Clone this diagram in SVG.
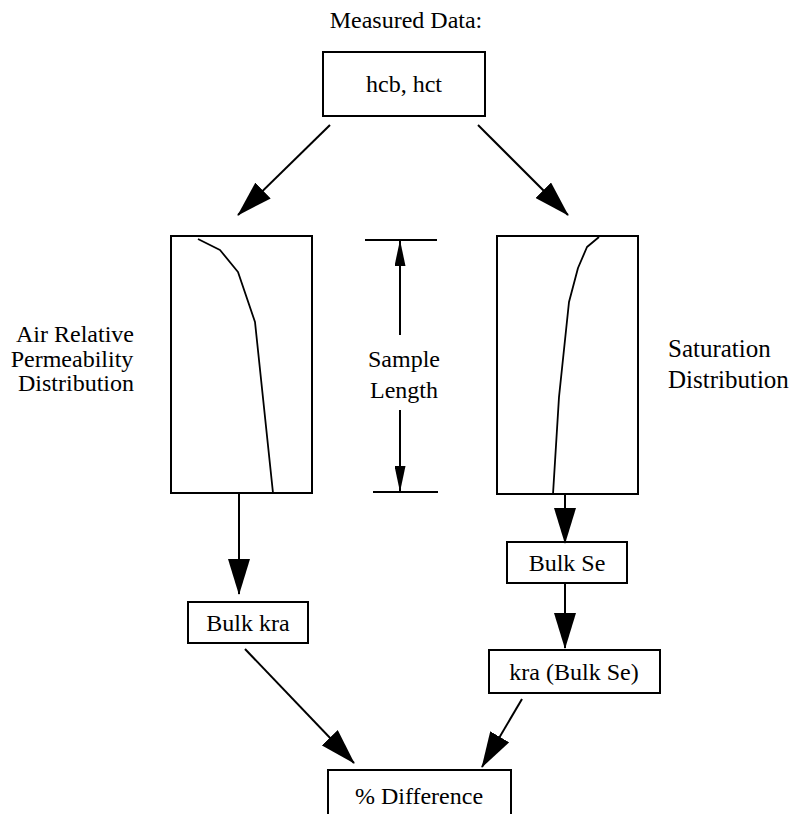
<svg xmlns="http://www.w3.org/2000/svg" width="790" height="814" viewBox="0 0 790 814">
<style>
.box{fill:#fff;stroke:#000;stroke-width:2}
.ln{fill:none;stroke:#000;stroke-width:2}
.cv{fill:none;stroke:#000;stroke-width:1.8;stroke-linejoin:round}
.t{font-family:"Liberation Serif","Times New Roman",serif;font-size:24px;fill:#000}
.m{text-anchor:middle}
</style>
<defs>
<marker id="ah" viewBox="0 0 36 22" markerWidth="36" markerHeight="22" refX="35" refY="11" orient="auto" markerUnits="userSpaceOnUse">
<path d="M0,0 L36,11 L0,22 z" fill="#000"/>
</marker>
<marker id="ahs" viewBox="0 0 26 11" markerWidth="26" markerHeight="11" refX="25" refY="5.5" orient="auto" markerUnits="userSpaceOnUse">
<path d="M0,0 L26,5.5 L0,11 z" fill="#000"/>
</marker>
</defs>
<text class="t m" x="406" y="28">Measured Data:</text>
<g id="measured">
<rect class="box" x="323" y="52" width="162" height="64"/>
<text class="t m" x="404" y="92">hcb, hct</text>
</g>
<g id="kra-dist">
<rect class="box" x="171" y="236" width="141" height="257"/>
<polyline class="cv" points="198,239 220,250 238,272 255,322 273,493"/>
<text class="t m" x="75" y="342">Air Relative</text>
<text class="t m" x="72" y="367">Permeability</text>
<text class="t m" x="76" y="391">Distribution</text>
</g>
<g id="sample-length">
<line class="ln" x1="365" y1="240" x2="437" y2="240"/>
<line class="ln" x1="373" y1="492" x2="438" y2="492"/>
<text class="t m" x="404" y="367">Sample</text>
<text class="t m" x="404" y="398">Length</text>
</g>
<g id="se-dist">
<rect class="box" x="497" y="236" width="141" height="258"/>
<polyline class="cv" points="599,237 587,247 578,268 569,302 559,397 553,494"/>
<text class="t" x="668" y="357" style="font-size:25px">Saturation</text>
<text class="t" x="668" y="388" style="font-size:25px">Distribution</text>
</g>
<g id="bulk-kra">
<rect class="box" x="188" y="602" width="120" height="41"/>
<text class="t m" x="248" y="631">Bulk kra</text>
</g>
<g id="bulk-se">
<rect class="box" x="507" y="542" width="120" height="41"/>
<text class="t m" x="567" y="571">Bulk Se</text>
</g>
<g id="kra-bulk-se">
<rect class="box" x="489" y="650" width="171" height="43"/>
<text class="t m" x="574" y="680">kra (Bulk Se)</text>
</g>
<g id="pct-diff">
<rect class="box" x="328" y="770" width="183" height="60"/>
<text class="t m" x="419" y="804">% Difference</text>
</g>
<g id="connectors">
<line class="ln" x1="330" y1="125" x2="238" y2="215" marker-end="url(#ah)"/>
<line class="ln" x1="478" y1="125" x2="568" y2="215" marker-end="url(#ah)"/>
<line class="ln" x1="400" y1="335" x2="400" y2="241" marker-end="url(#ahs)"/>
<line class="ln" x1="400" y1="410" x2="400" y2="491" marker-end="url(#ahs)"/>
<line class="ln" x1="239" y1="494" x2="239" y2="594" marker-end="url(#ah)"/>
<line class="ln" x1="565" y1="495" x2="565" y2="543" marker-end="url(#ah)"/>
<line class="ln" x1="565" y1="583" x2="565" y2="648" marker-end="url(#ah)"/>
<line class="ln" x1="245" y1="649" x2="354" y2="763" marker-end="url(#ah)"/>
<line class="ln" x1="522" y1="699" x2="482" y2="767" marker-end="url(#ah)"/>
</g>
</svg>
